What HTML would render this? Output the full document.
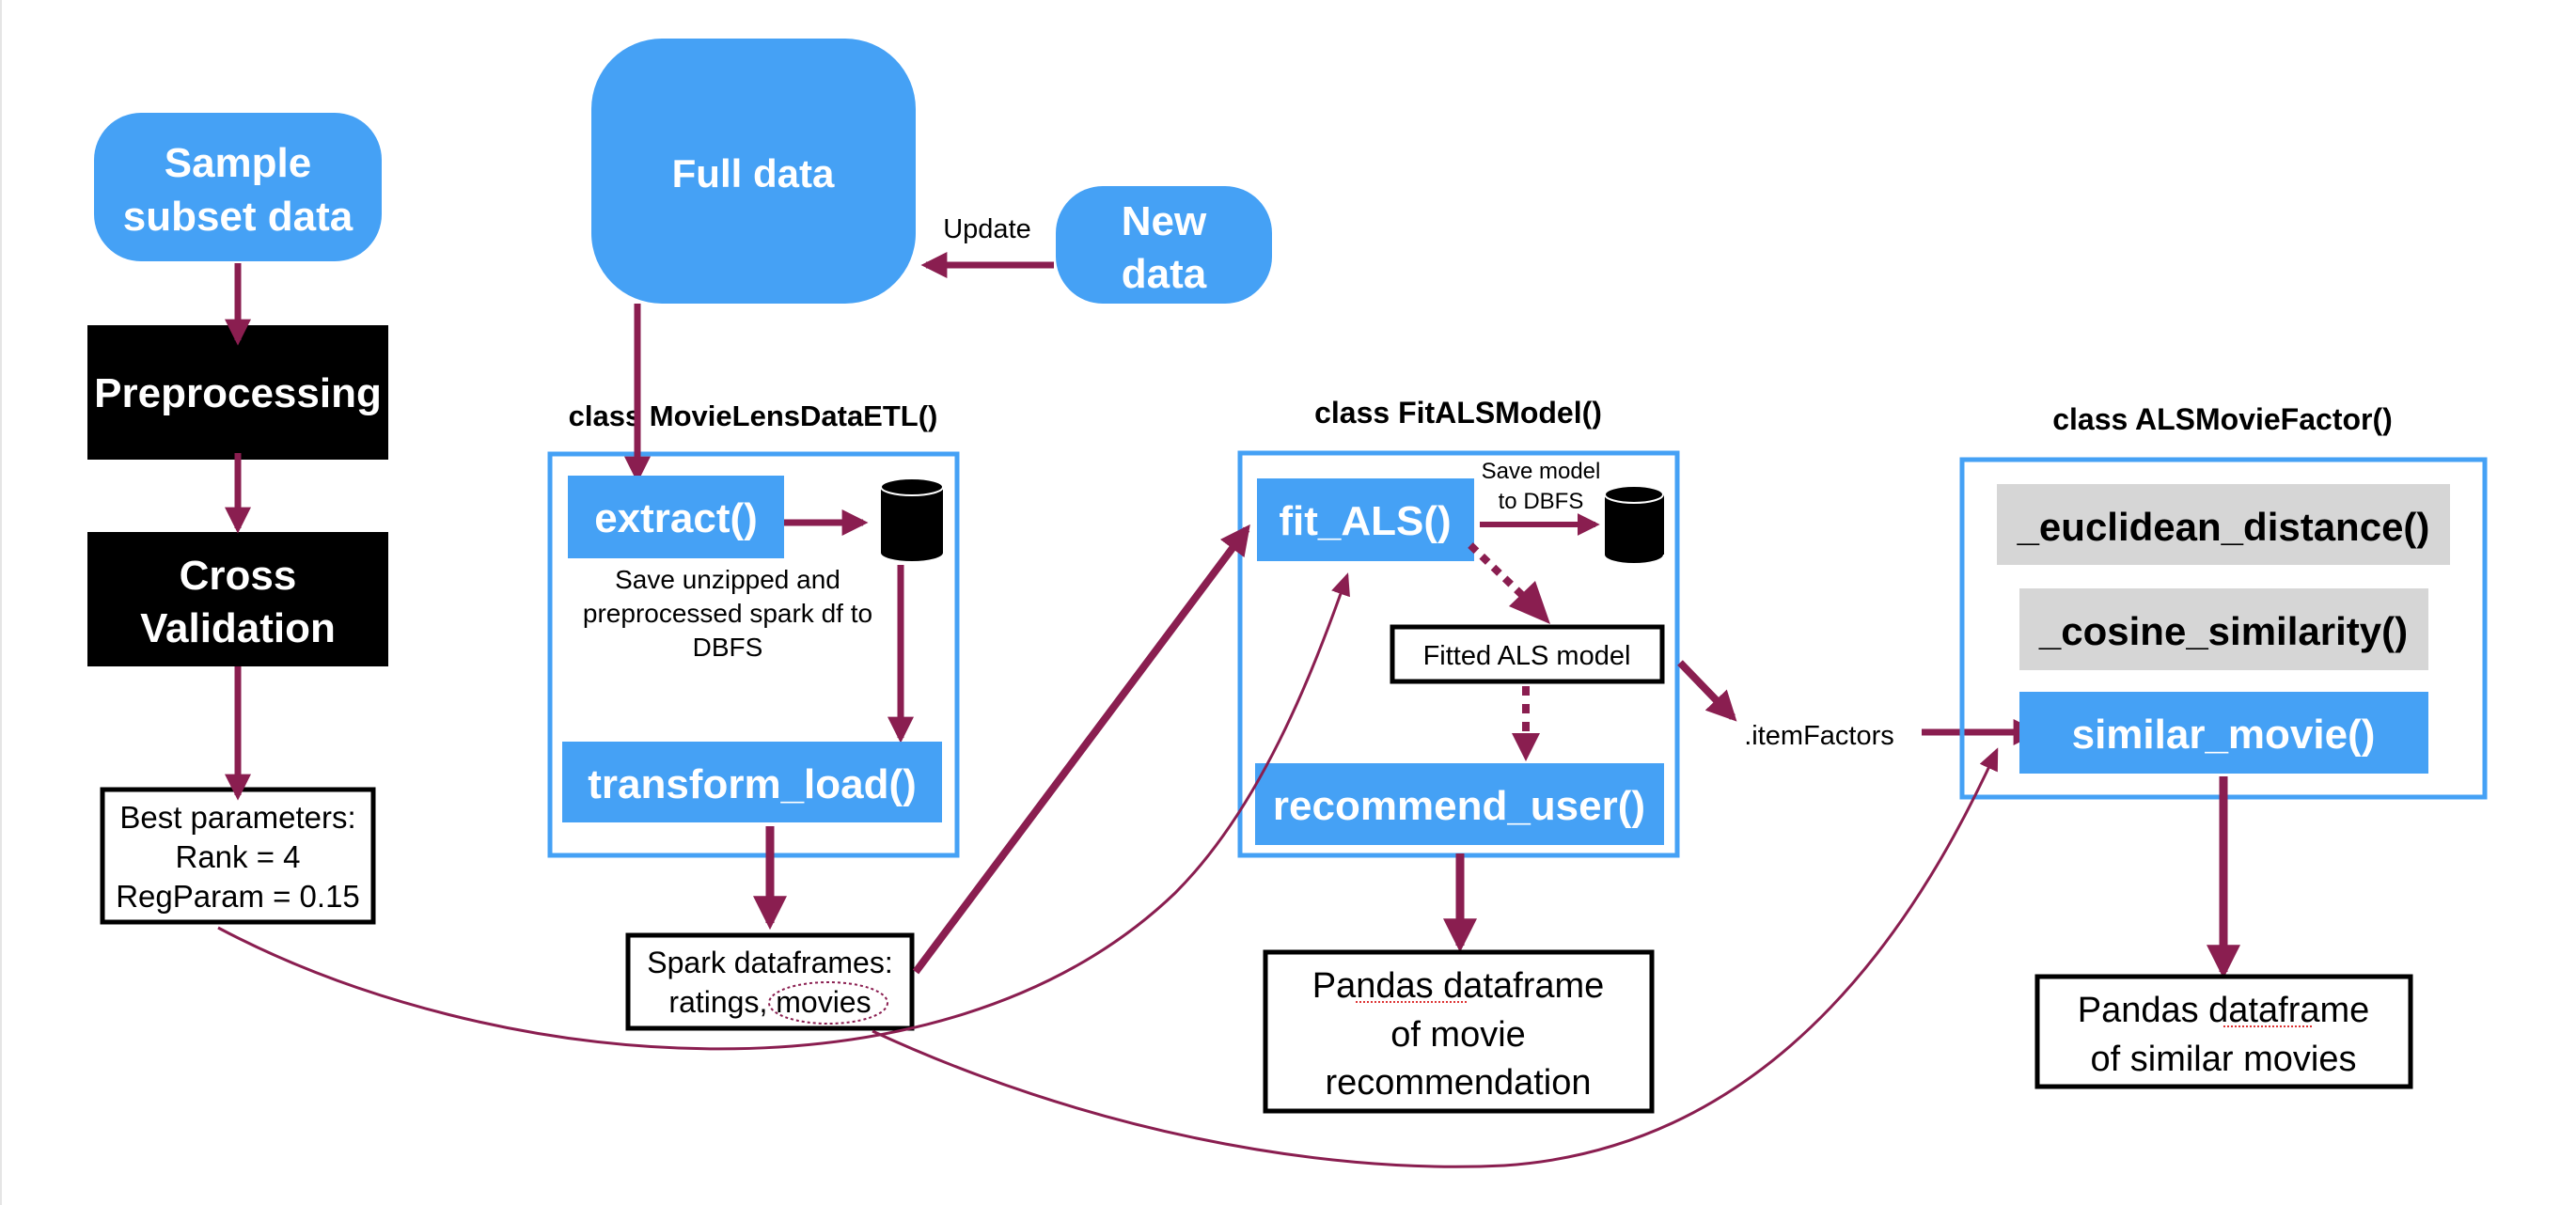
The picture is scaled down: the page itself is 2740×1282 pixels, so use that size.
<!DOCTYPE html>
<html><head><meta charset="utf-8"><style>
html,body{margin:0;padding:0;background:#fff}
svg{display:block}
text{font-family:"Liberation Sans",Arial,sans-serif}
.w{fill:#fff;font-weight:bold;text-anchor:middle}
.b{fill:#000;text-anchor:middle}
.bb{fill:#000;font-weight:bold;text-anchor:middle}
</style></head><body>
<svg width="2740" height="1282" viewBox="0 0 2740 1282" xmlns="http://www.w3.org/2000/svg">
<defs>
<marker id="ah" markerWidth="4" markerHeight="4" refX="3.2" refY="2" orient="auto" markerUnits="strokeWidth"><path d="M0,0 L4,2 L0,4 z" fill="#8a1e50"/></marker>
<marker id="ahs" markerWidth="8" markerHeight="8" refX="7" refY="4" orient="auto" markerUnits="strokeWidth"><path d="M0,0.5 L8,4 L0,7.5 z" fill="#8a1e50"/></marker>
</defs>
<line x1="1" y1="0" x2="1" y2="1282" stroke="#e5e5e5" stroke-width="2"/>

<!-- left column -->
<rect x="100" y="120" width="306" height="158" rx="50" fill="#45a1f5"/>
<text class="w" x="253" y="188" font-size="44">Sample</text>
<text class="w" x="253" y="245" font-size="44">subset data</text>
<rect x="93" y="346" width="320" height="143" fill="#000"/>
<text class="w" x="253" y="433" font-size="44">Preprocessing</text>
<rect x="93" y="566" width="320" height="143" fill="#000"/>
<text class="w" x="253" y="627" font-size="44">Cross</text>
<text class="w" x="253" y="683" font-size="44">Validation</text>
<rect x="109" y="840" width="288" height="141" fill="#fff" stroke="#000" stroke-width="5"/>
<text class="b" x="253" y="881" font-size="33">Best parameters:</text>
<text class="b" x="253" y="923" font-size="33">Rank = 4</text>
<text class="b" x="253" y="965" font-size="33">RegParam = 0.15</text>
<g stroke="#8a1e50" stroke-width="7" fill="none">
<line x1="253" y1="280" x2="253" y2="362" marker-end="url(#ah)"/>
<line x1="253" y1="482" x2="253" y2="562" marker-end="url(#ah)"/>
<line x1="253" y1="709" x2="253" y2="846" marker-end="url(#ah)"/>
</g>

<!-- full data -->
<rect x="629" y="41" width="345" height="282" rx="75" fill="#45a1f5"/>
<text class="w" x="801" y="199" font-size="42">Full data</text>
<rect x="1123" y="198" width="230" height="125" rx="50" fill="#45a1f5"/>
<text class="w" x="1238" y="250" font-size="44">New</text>
<text class="w" x="1238" y="306" font-size="44">data</text>
<text class="b" x="1050" y="253" font-size="29">Update</text>
<line x1="1121" y1="282" x2="985" y2="282" stroke="#8a1e50" stroke-width="7" marker-end="url(#ah)"/>

<!-- ETL -->
<text class="bb" x="801" y="453" font-size="31">class MovieLensDataETL()</text>
<rect x="585" y="483" width="433" height="427" fill="none" stroke="#45a1f5" stroke-width="5"/>
<line x1="678" y1="323" x2="678" y2="508" stroke="#8a1e50" stroke-width="7" marker-end="url(#ah)"/>
<rect x="604" y="506" width="230" height="88" fill="#45a1f5"/>
<text class="w" x="719" y="566" font-size="44">extract()</text>
<line x1="834" y1="556" x2="918" y2="556" stroke="#8a1e50" stroke-width="7" marker-end="url(#ah)"/>
<g>
<rect x="937" y="518" width="66" height="70" fill="#000"/>
<ellipse cx="970" cy="588" rx="33" ry="9" fill="#000"/>
<ellipse cx="970" cy="518" rx="33" ry="9" fill="#000" stroke="#fff" stroke-width="2"/>
</g>
<text class="b" x="774" y="626" font-size="28">Save unzipped and</text>
<text class="b" x="774" y="662" font-size="28">preprocessed spark df to</text>
<text class="b" x="774" y="698" font-size="28">DBFS</text>
<line x1="958" y1="601" x2="958" y2="785" stroke="#8a1e50" stroke-width="7" marker-end="url(#ah)"/>
<rect x="598" y="789" width="404" height="86" fill="#45a1f5"/>
<text class="w" x="800" y="849" font-size="44">transform_load()</text>
<line x1="819" y1="879" x2="819" y2="982" stroke="#8a1e50" stroke-width="9" marker-end="url(#ah)"/>
<rect x="668" y="995" width="302" height="99" fill="#fff" stroke="#000" stroke-width="5"/>
<text class="b" x="819" y="1035" font-size="32">Spark dataframes:</text>
<text class="b" x="819" y="1077" font-size="32">ratings, movies</text>
<ellipse cx="881" cy="1067" rx="63" ry="22" fill="none" stroke="#8a1e50" stroke-width="2" stroke-dasharray="3,3"/>

<!-- FitALS -->
<text class="bb" x="1551" y="450" font-size="32">class FitALSModel()</text>
<rect x="1319" y="482" width="465" height="428" fill="none" stroke="#45a1f5" stroke-width="5"/>
<rect x="1337" y="509" width="231" height="88" fill="#45a1f5"/>
<text class="w" x="1452" y="569" font-size="44">fit_ALS()</text>
<text class="b" x="1639" y="509" font-size="24">Save model</text>
<text class="b" x="1639" y="541" font-size="24">to DBFS</text>
<line x1="1574" y1="558" x2="1697" y2="558" stroke="#8a1e50" stroke-width="6" marker-end="url(#ah)"/>
<g>
<rect x="1707" y="526" width="63" height="64" fill="#000"/>
<ellipse cx="1738" cy="590" rx="31" ry="9" fill="#000"/>
<ellipse cx="1738" cy="526" rx="31" ry="9" fill="#000" stroke="#fff" stroke-width="2"/>
</g>
<line x1="1564" y1="580" x2="1622" y2="636" stroke="#8a1e50" stroke-width="8" stroke-dasharray="9,8"/>
<polygon points="1649,664 1605,645 1633,618" fill="#8a1e50"/>
<rect x="1481" y="667" width="287" height="58" fill="#fff" stroke="#000" stroke-width="5"/>
<text class="b" x="1624" y="707" font-size="29">Fitted ALS model</text>
<line x1="1623" y1="730" x2="1623" y2="780" stroke="#8a1e50" stroke-width="8" stroke-dasharray="10,9"/>
<polygon points="1608,780 1638,780 1623,810" fill="#8a1e50"/>
<rect x="1335" y="812" width="435" height="87" fill="#45a1f5"/>
<text class="w" x="1552" y="872" font-size="44">recommend_user()</text>
<line x1="1553" y1="908" x2="1553" y2="1006" stroke="#8a1e50" stroke-width="9" marker-end="url(#ah)"/>
<rect x="1346" y="1013" width="411" height="169" fill="#fff" stroke="#000" stroke-width="5"/>
<text class="b" x="1551" y="1061" font-size="38">Pandas dataframe</text>
<text class="b" x="1551" y="1113" font-size="38">of movie</text>
<text class="b" x="1551" y="1164" font-size="38">recommendation</text>
<path d="M1442,1066 h120" stroke="#d33" stroke-width="2" stroke-dasharray="2,2"/>

<line x1="1787" y1="705" x2="1843" y2="763" stroke="#8a1e50" stroke-width="8" marker-end="url(#ah)"/>
<text class="b" x="1935" y="792" font-size="29">.itemFactors</text>
<line x1="2044" y1="779" x2="2164" y2="779" stroke="#8a1e50" stroke-width="7" marker-end="url(#ah)"/>

<!-- ALSMovieFactor -->
<text class="bb" x="2364" y="457" font-size="32">class ALSMovieFactor()</text>
<rect x="2087" y="489" width="556" height="359" fill="none" stroke="#45a1f5" stroke-width="5"/>
<rect x="2124" y="515" width="482" height="86" fill="#d6d6d6"/>
<text class="bb" x="2365" y="575" font-size="42">_euclidean_distance()</text>
<rect x="2148" y="626" width="435" height="87" fill="#d6d6d6"/>
<text class="bb" x="2365" y="686" font-size="42">_cosine_similarity()</text>
<rect x="2148" y="736" width="435" height="87" fill="#45a1f5"/>
<text class="w" x="2365" y="796" font-size="44">similar_movie()</text>
<line x1="2365" y1="826" x2="2365" y2="1034" stroke="#8a1e50" stroke-width="9" marker-end="url(#ah)"/>
<rect x="2167" y="1039" width="397" height="117" fill="#fff" stroke="#000" stroke-width="5"/>
<text class="b" x="2365" y="1087" font-size="38">Pandas dataframe</text>
<text class="b" x="2365" y="1139" font-size="38">of similar movies</text>
<path d="M2365,1092 h95" stroke="#d33" stroke-width="2" stroke-dasharray="2,2"/>

<!-- long connectors -->
<line x1="974" y1="1034" x2="1326" y2="563" stroke="#8a1e50" stroke-width="8" marker-end="url(#ah)"/>
<path d="M232,987 C520,1140 1000,1190 1250,950 C1340,860 1395,720 1433,612" fill="none" stroke="#8a1e50" stroke-width="3" marker-end="url(#ahs)"/>
<path d="M928,1097 C1150,1200 1400,1250 1600,1240 C1900,1220 2050,960 2124,798" fill="none" stroke="#8a1e50" stroke-width="3" marker-end="url(#ahs)"/>
</svg>
</body></html>
